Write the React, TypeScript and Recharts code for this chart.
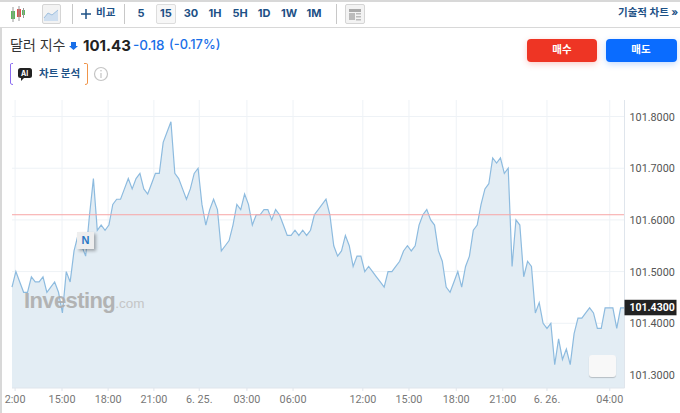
import React from "react";
import { ComposedChart, Area, XAxis, YAxis, CartesianGrid, ReferenceLine } from "recharts";

// hundredths above 101 (15 min bars)
const hundredths = [
  47, 50, 48, 46, 46, 49, 48, 48, 49, 46, 47, 48, 46, 42, 50, 48, 54, 57, 55, 53,
  61, 68, 58, 59, 58, 59, 63, 64, 64, 66, 68, 66, 68, 69, 66, 65, 67, 69, 69, 75,
  77, 79, 69, 68, 66, 64, 66, 69, 70, 63, 59, 62, 64, 62,
  54, 55, 56, 59, 63, 62, 65, 63, 59, 61, 61, 62, 62, 60, 62, 61, 59, 57, 57, 58,
  57, 58, 57, 58, 61, 62, 63, 64, 61, 55, 53, 54, 57, 55, 51, 53, 53, 50, 51, 50,
  49, 48, 47, 50, 50, 51, 52, 54, 55, 54, 55, 59, 61, 62,
  60, 59, 54, 52, 47, 46, 48, 50, 47, 51, 53, 58, 59, 63, 66, 67, 72, 71, 72, 69,
  70, 51, 60, 59, 49, 52, 51, 42, 44, 40, 39, 40, 32, 37, 33, 35, 32, 38, 41, 41,
  42, 43, 42, 39, 39, 43, 43, 43, 39, 43, 43,
];
const prices = hundredths.map((h) => 101 + h / 100);
const data = prices.map((price, i) => ({ i, price }));

const timeTicks = [0.8, 12.9, 24.8, 36.6, 48.3, 60.6, 72.5, 90.5, 102.4, 114.6, 126.6, 138, 154.2];
const timeLabels = ["2:00", "15:00", "18:00", "21:00", "6. 25.", "03:00", "06:00", "12:00", "15:00", "18:00", "21:00", "6. 26.", "04:00"];
const priceTicks = [101.3, 101.4, 101.5, 101.6, 101.7, 101.8];
const lastPrice = 101.43;
const prevClose = 101.61;
const intervals = ["5", "15", "30", "1H", "5H", "1D", "1W", "1M"];
const intervalX = [141, 166, 191, 215, 240, 264, 289, 314];

const KR = '"Inter", "Noto Sans CJK KR", sans-serif';
const NAVY = "#1d5186";

function PriceTick({ x, y, payload }: any) {
  if (payload.value === lastPrice) {
    return (
      <g>
        <rect x={x - 8} y={y - 8} width={52} height={15.5} fill="#222222" />
        <text x={x - 3} y={y + 3.5} fontSize={10.5} fontWeight={700} fill="#ffffff" fontFamily="Roboto">
          {lastPrice.toFixed(4)}
        </text>
      </g>
    );
  }
  return (
    <text x={x - 3} y={y + 4} fontSize={10.8} fill="#555555" fontFamily="Roboto">
      {Number(payload.value).toFixed(4)}
    </text>
  );
}

function Txt({ x, y, size, color, bold, medium, children, center }: any) {
  return (
    <div
      style={{
        position: "absolute",
        left: x,
        top: y,
        fontSize: size,
        color,
        fontWeight: bold ? 700 : medium ? 500 : 400,
        fontFamily: KR,
        lineHeight: 1,
        whiteSpace: "nowrap",
        transform: center ? "translateX(-50%)" : undefined,
      }}
    >
      {children}
    </div>
  );
}

function Header() {
  return (
    <>
      <div style={{ position: "absolute", left: 0, top: 0, width: 680, height: 1.5, background: "#d8d8d8" }} />
      <div style={{ position: "absolute", left: 0, top: 27, width: 680, height: 1, background: "#d8d8d8" }} />
      <div style={{ position: "absolute", left: 0, top: 27, width: 1.5, height: 386, background: "#d8d8d8" }} />
      {[72, 124, 336].map((x) => (
        <div key={x} style={{ position: "absolute", left: x, top: 4, width: 1, height: 20, background: "#c8c8c8" }} />
      ))}
      <svg style={{ position: "absolute", left: 0, top: 0 }} width={680} height={100}>
        <rect x={11} y={11} width={4} height={8} fill="#5cb85c" />
        <line x1={13} x2={13} y1={7} y2={22} stroke="#999" />
        <rect x={17} y={9} width={4} height={8} fill="#d9534f" />
        <line x1={19} x2={19} y1={6} y2={21} stroke="#999" />
        <rect x={22} y={10} width={3} height={5} fill="#5cb85c" />
        <line x1={23.5} x2={23.5} y1={8} y2={18} stroke="#999" />
        <rect x={42.5} y={4.5} width={18} height={19} rx={1.5} fill="#f3f3f3" stroke="#d5d5d5" />
        <polygon points="44,18 48,13 52,15 58,10 58,21 44,21" fill="#cfdff0" />
        <polyline points="44,18 48,13 52,15 58,10" fill="none" stroke="#9fc0df" />
        <line x1={81} x2={91} y1={14} y2={14} stroke={NAVY} strokeWidth={1.5} />
        <line x1={86} x2={86} y1={9} y2={19} stroke={NAVY} strokeWidth={1.5} />
        <rect x={156.5} y={4.5} width={19} height={19} rx={1.5} fill="#f7f7f7" stroke="#dddddd" />
        <rect x={345.5} y={4.5} width={19} height={19} rx={1.5} fill="#f3f3f3" stroke="#d5d5d5" />
        <rect x={349} y={9} width={12} height={3} fill="#aaa" />
        <rect x={349} y={13} width={6} height={7} fill="#bbb" />
        <rect x={356} y={13} width={5} height={1.5} fill="#bbb" />
        <rect x={356} y={16} width={5} height={1.5} fill="#bbb" />
        <rect x={356} y={19} width={5} height={1.5} fill="#bbb" />
        <polygon points="71,42 76,42 76,46 78,46 73.5,50 69,46 71,46" fill="#1a6fe8" />
        <path d="M13 63.5 H11.5 Q10.5 63.5 10.5 65 V83 Q10.5 84.5 13 84.5" fill="none" stroke="#8a6cf0" />
        <path d="M84 63.5 H86.5 Q87.5 63.5 87.5 65 V83 Q87.5 84.5 85 84.5" fill="none" stroke="#f0954a" />
        <rect x={18} y={68} width={14} height={10} rx={2.5} fill="#222" />
        <polygon points="21,77 25,77 21,81" fill="#222" />
        <circle cx={101} cy={74} r={6.5} fill="none" stroke="#c4c4c4" strokeWidth={1.2} />
        <line x1={101} x2={101} y1={73} y2={78} stroke="#c4c4c4" strokeWidth={1.2} />
        <circle cx={101} cy={70.8} r={0.8} fill="#c4c4c4" />
      </svg>
      <Txt x={96} y={8} size={10.5} color={NAVY} bold>비교</Txt>
      {intervals.map((label, i) => (
        <Txt key={label} x={intervalX[i]} y={8} size={11} color={NAVY} bold center>{label}</Txt>
      ))}
      <Txt x={618} y={8} size={10.5} color={NAVY} bold>기술적 차트 »</Txt>
      <Txt x={10} y={38} size={14} color="#333333">달러 지수</Txt>
      <Txt x={83} y={38} size={15} color="#222222" bold>101.43</Txt>
      <Txt x={133} y={39} size={13.5} color="#1a6fe8" medium>-0.18</Txt>
      <Txt x={169} y={39} size={12.8} color="#1a6fe8" medium>(-0.17%)</Txt>
      <Txt x={21} y={70} size={7} color="#ffffff" bold>AI</Txt>
      <Txt x={39} y={69} size={10.5} color={NAVY} bold>차트 분석</Txt>
      <div style={{ position: "absolute", left: 527, top: 39, width: 70, height: 23, borderRadius: 4, background: "#ee3524", boxShadow: "0 2px 6px rgba(238,53,36,.25)" }} />
      <div style={{ position: "absolute", left: 606, top: 39, width: 71, height: 23, borderRadius: 4, background: "#0a6cff", boxShadow: "0 2px 6px rgba(10,108,255,.25)" }} />
      <Txt x={562} y={45} size={10.5} color="#ffffff" bold center>매수</Txt>
      <Txt x={641} y={45} size={10.5} color="#ffffff" bold center>매도</Txt>
    </>
  );
}

export default function App() {
  return (
    <div style={{ position: "relative", width: 680, height: 413, overflow: "hidden", background: "#fff" }}>
      <style>{"body{margin:0}"}</style>
      <Header />
      <div style={{ position: "absolute", left: 0, top: 0 }}>
        <ComposedChart width={680} height={413} data={data} margin={{ top: 100, right: 0, bottom: 0, left: 12 }}>
          <CartesianGrid stroke="#eef2f6" verticalValues={timeTicks} horizontalValues={priceTicks} />
          <XAxis
            dataKey="i"
            type="number"
            domain={[0, prices.length - 1]}
            ticks={timeTicks}
            tickFormatter={(v: number) => timeLabels[timeTicks.indexOf(v)]}
            height={25}
            interval={0}
            stroke="#dfe5ec"
            tickSize={3}
            tickMargin={4}
            tick={{ fontSize: 10.8, fill: "#777777", fontFamily: "Roboto" }}
          />
          <YAxis
            orientation="right"
            width={55.5}
            domain={[101.2748, 101.832]}
            allowDataOverflow
            ticks={[...priceTicks, lastPrice]}
            interval={0}
            stroke="#dfe5ec"
            tickLine={false}
            tick={<PriceTick />}
          />
          <Area
            dataKey="price"
            type="linear"
            stroke="#8dbbdf"
            strokeWidth={1.2}
            fill="#e3edf4"
            fillOpacity={1}
            isAnimationActive={false}
          />
          <ReferenceLine y={prevClose} stroke="#f7a5a5" strokeWidth={1} />
        </ComposedChart>
      </div>
      <div style={{ position: "absolute", left: 24, top: 290, fontFamily: "Liberation Sans", lineHeight: 1, opacity: 0.9 }}>
        <span style={{ fontSize: 22, fontWeight: 700, color: "#adadad", letterSpacing: -0.6 }}>Investing</span>
        <span style={{ fontSize: 13.5, color: "#c2c2c2" }}>.com</span>
      </div>
      <div style={{ position: "absolute", left: 77, top: 232, width: 17, height: 17, background: "#eeeeee", boxShadow: "2px 2px 3px rgba(0,0,0,.3)", color: "#2a78c4", fontFamily: "Liberation Sans", fontWeight: 700, fontSize: 11, lineHeight: "17px", textAlign: "center" }}>
        N
      </div>
      <div style={{ position: "absolute", left: 589, top: 355, width: 27, height: 22, borderRadius: 3, background: "#f8f8f8", boxShadow: "0 1px 1px rgba(0,0,0,.2)" }} />
    </div>
  );
}
